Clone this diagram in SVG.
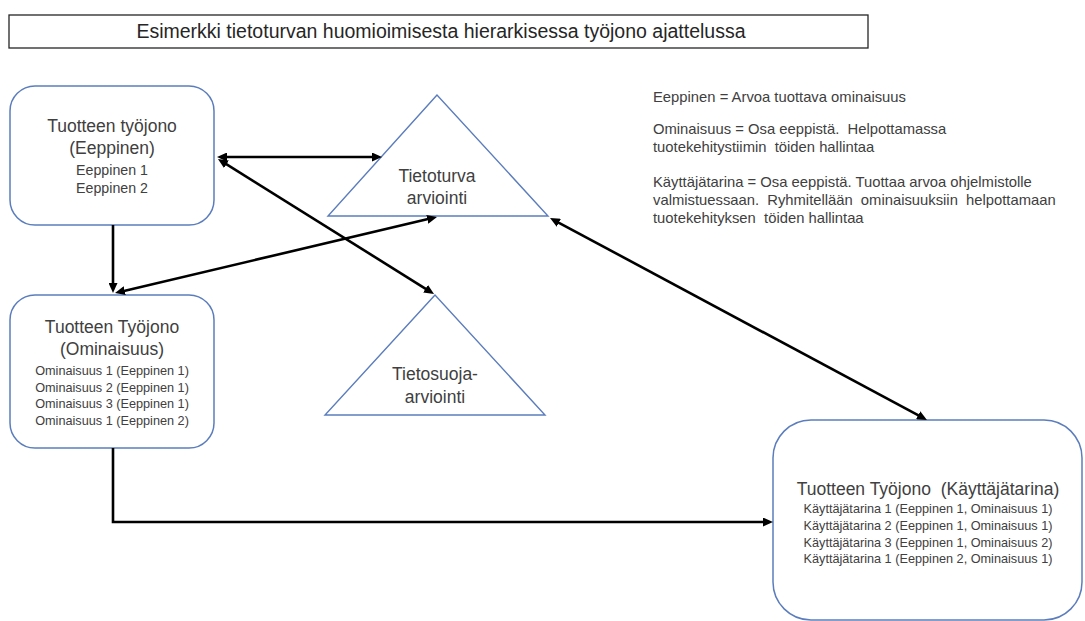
<svg xmlns="http://www.w3.org/2000/svg" width="1085" height="621" viewBox="0 0 1085 621">
  <style>
    .box { fill: #ffffff; stroke: #5b7dbd; stroke-width: 1.5; }
    .tri { fill: #ffffff; stroke: #5b7dbd; stroke-width: 1.4; }
    .t { font-family: "Liberation Sans", Arial, sans-serif; fill: #404040; text-anchor: middle; }
    .big { font-size: 17.5px; }
    .mid { font-size: 14.2px; }
    .sm { font-size: 12.7px; }
    .leg { font-family: "Liberation Sans", Arial, sans-serif; fill: #404040; font-size: 14.8px; }
    .conn { fill: none; stroke: #000000; stroke-width: 2.6; }
  </style>
  <defs>
    <marker id="head" viewBox="0 0 10 9" refX="3" refY="4.5" markerWidth="10" markerHeight="9" markerUnits="userSpaceOnUse" orient="auto-start-reverse">
      <path d="M0,0 L10,4.5 L0,9 z" fill="#000000"/>
    </marker>
  </defs>
  <rect width="1085" height="621" fill="#ffffff"/>

  <!-- heading -->
  <g id="title">
    <rect x="9" y="15" width="859" height="33" fill="#ffffff" stroke="#262626" stroke-width="1.3"/>
    <text x="441" y="38" class="t" style="font-size:19.5px;fill:#262626">Esimerkki tietoturvan huomioimisesta hierarkisessa työjono ajattelussa</text>
  </g>

  <!-- epic backlog -->
  <g id="backlog-epic">
    <rect class="box" x="10" y="86" width="204" height="139" rx="25"/>
    <text class="t big" x="112" y="132">Tuotteen työjono</text>
    <text class="t big" x="112" y="154">(Eeppinen)</text>
    <text class="t mid" x="112" y="175">Eeppinen 1</text>
    <text class="t mid" x="112" y="193">Eeppinen 2</text>
  </g>

  <!-- feature backlog -->
  <g id="backlog-feature">
    <rect class="box" x="10" y="295" width="204" height="153" rx="25"/>
    <text class="t big" x="112" y="333">Tuotteen Työjono</text>
    <text class="t big" x="112" y="355">(Ominaisuus)</text>
    <text class="t sm" x="112" y="375">Ominaisuus 1 (Eeppinen 1)</text>
    <text class="t sm" x="112" y="391.5">Ominaisuus 2 (Eeppinen 1)</text>
    <text class="t sm" x="112" y="408">Ominaisuus 3 (Eeppinen 1)</text>
    <text class="t sm" x="112" y="424.5">Ominaisuus 1 (Eeppinen 2)</text>
  </g>

  <!-- security assessment -->
  <g id="security-assessment">
    <polygon class="tri" points="437,95 328,216 548,216"/>
    <text class="t big" x="437" y="182">Tietoturva</text>
    <text class="t big" x="437" y="204">arviointi</text>
  </g>

  <!-- privacy assessment -->
  <g id="privacy-assessment">
    <polygon class="tri" points="435,295 325,415 545,415"/>
    <text class="t big" x="435" y="380">Tietosuoja-</text>
    <text class="t big" x="435" y="403">arviointi</text>
  </g>

  <!-- user story backlog -->
  <g id="backlog-story">
    <rect class="box" x="773" y="420" width="309" height="200" rx="38"/>
    <text class="t big" x="928" y="495" xml:space="preserve">Tuotteen Työjono  (Käyttäjätarina)</text>
    <text class="t sm" x="928" y="513">Käyttäjätarina 1 (Eeppinen 1, Ominaisuus 1)</text>
    <text class="t sm" x="928" y="530">Käyttäjätarina 2 (Eeppinen 1, Ominaisuus 1)</text>
    <text class="t sm" x="928" y="546.5">Käyttäjätarina 3 (Eeppinen 1, Ominaisuus 2)</text>
    <text class="t sm" x="928" y="563">Käyttäjätarina 1 (Eeppinen 2, Ominaisuus 1)</text>
  </g>

  <!-- glossary -->
  <g id="legend">
    <text class="leg" x="653" y="102">Eeppinen = Arvoa tuottava ominaisuus</text>
    <text class="leg" x="653" y="134" xml:space="preserve">Ominaisuus = Osa eeppistä.  Helpottamassa</text>
    <text class="leg" x="653" y="152" xml:space="preserve">tuotekehitystiimin  töiden hallintaa</text>
    <text class="leg" x="653" y="187">Käyttäjätarina = Osa eeppistä. Tuottaa arvoa ohjelmistolle</text>
    <text class="leg" x="653" y="205" word-spacing="4">valmistuessaan. Ryhmitellään ominaisuuksiin helpottamaan</text>
    <text class="leg" x="653" y="223" xml:space="preserve">tuotekehityksen  töiden hallintaa</text>
  </g>

  <!-- connectors -->
  <g id="connectors">
    <line class="conn" x1="113" y1="225" x2="113" y2="286" marker-end="url(#head)"/>
    <line class="conn" x1="224" y1="157" x2="375" y2="157" marker-start="url(#head)" marker-end="url(#head)"/>
    <line class="conn" x1="223.9" y1="162.7" x2="428.1" y2="290.3" marker-start="url(#head)" marker-end="url(#head)"/>
    <line class="conn" x1="121.8" y1="291.4" x2="430.2" y2="218.6" marker-start="url(#head)" marker-end="url(#head)"/>
    <line class="conn" x1="556.2" y1="221.3" x2="920.8" y2="416.7" marker-start="url(#head)" marker-end="url(#head)"/>
    <path class="conn" d="M113,448 V522 H766" marker-end="url(#head)"/>
  </g>
</svg>
